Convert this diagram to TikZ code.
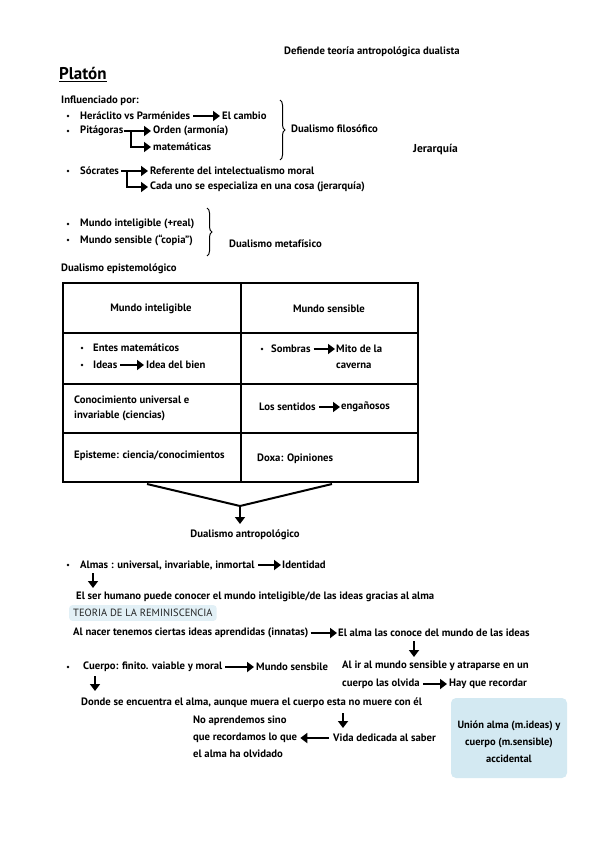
\documentclass[tikz,border=0pt]{standalone}
\usepackage{fontspec}
\setmainfont{PT Sans}
\usetikzlibrary{arrows.meta,decorations.pathreplacing}
\definecolor{hl}{HTML}{E2F0F6}
\definecolor{boxblue}{HTML}{D3E9F2}
\newcommand{\fsz}{\fontsize{10.7}{12}\selectfont\bfseries}
\begin{document}
\begin{tikzpicture}[x=1pt,y=-1pt,
  txt/.style={anchor=west,inner sep=0pt,font=\fsz},
  ctxt/.style={anchor=center,inner sep=0pt,font=\fsz},
  arr/.style={line width=2pt,-{Triangle[length=7pt,width=10pt]}},
  tline/.style={line width=1.1pt},
  brc/.style={line width=1pt,decorate,decoration={brace,amplitude=5pt}}]
\useasboundingbox (0,0) rectangle (594,848);
% header
\node[txt] (def) at (284,52) {Defiende teoría antropológica dualista};
\node[txt,font=\fontsize{17}{19}\bfseries] (plat) at (59,73) {Platón};
\draw[line width=1.3pt] ([yshift=-2pt]plat.south west) -- ([yshift=-2pt]plat.south east);
\node[txt] (infl) at (61,101) {Influenciado por:};
% influences
\fill (68,116) circle (1.4pt);
\node[txt] (her) at (80,116) {Heráclito vs Parménides};
\node[txt] (camb) at (222,116) {El cambio};
\draw[arr] ([xshift=3pt]her.east) -- ([xshift=-2pt]camb.west);
\fill (68,131) circle (1.4pt);
\node[txt] (pit) at (80,131) {Pitágoras};
\node[txt] (ord) at (153,131) {Orden (armonía)};
\node[txt] (mat) at (153,147) {matemáticas};
\coordinate (pj) at (131,131);
\draw[arr] (pit.east) -- ([xshift=-2pt]ord.west);
\draw[arr] (pj) |- ([xshift=-2pt]mat.west);
\draw[brc] (280,100) -- (280,160);
\node[txt] (fil) at (291,129) {Dualismo filosófico};
\node[txt,font=\fontsize{11.5}{13}\bfseries] (jer) at (413,150) {Jerarquía};
\fill (68,171) circle (1.4pt);
\node[txt] (soc) at (80,171) {Sócrates};
\node[txt] (ref) at (150,171) {Referente del intelectualismo moral};
\node[txt] (cada) at (150,187) {Cada uno se especializa en una cosa (jerarquía)};
\coordinate (sj) at (127,171);
\draw[arr] ([xshift=2pt]soc.east) -- ([xshift=-2pt]ref.west);
\draw[arr] (sj) |- ([xshift=-2pt]cada.west);
% worlds
\fill (68,224) circle (1.4pt);
\node[txt] (mi) at (80,224) {Mundo inteligible (+real)};
\fill (68,240) circle (1.4pt);
\node[txt] (ms) at (80,240) {Mundo sensible (“copia”)};
\draw[brc] (207,208) -- (207,256);
\node[txt] (met) at (229,244) {Dualismo metafísico};
\node[txt] (epi) at (61,269) {Dualismo epistemológico};
% table
\draw[tline] (63,283) rectangle (418,482);
\draw[tline] (241,283) -- (241,482);
\draw[tline] (63,333) -- (418,333);
\draw[tline] (63,384) -- (418,384);
\draw[tline] (63,433) -- (418,433);
\node[ctxt] (h1) at (151,309) {Mundo inteligible};
\node[ctxt] (h2) at (329,309) {Mundo sensible};
\fill (82,348) circle (1.4pt);
\fill (82,365) circle (1.4pt);
\node[txt] (ent) at (93,348) {Entes matemáticos};
\node[txt] (ide) at (93,365) {Ideas};
\node[txt] (bien) at (146,365) {Idea del bien};
\draw[arr] ([xshift=3pt]ide.east) -- ([xshift=-2pt]bien.west);
\fill (262,349) circle (1.4pt);
\node[txt] (som) at (271,349) {Sombras};
\node[txt] (mito) at (336,349) {Mito de la};
\node[txt] (cav) at (336,366) {caverna};
\draw[arr] ([xshift=3pt]som.east) -- ([xshift=-1pt]mito.west);
\node[txt] (con1) at (74,400) {Conocimiento universal e};
\node[txt] (con2) at (74,416) {invariable (ciencias)};
\node[txt] (sent) at (259,407) {Los sentidos};
\node[txt] (eng) at (341,407) {engañosos};
\draw[arr] ([xshift=3pt]sent.east) -- ([xshift=-1pt]eng.west);
\node[txt] (epis) at (74,456) {Episteme: ciencia/conocimientos};
\node[txt] (doxa) at (257,459) {Doxa: Opiniones};
% funnel
\coordinate (fl) at (147,484);
\coordinate (fr) at (332,484);
\coordinate (fm) at (240,506);
\node[ctxt] (antro) at (245,535) {Dualismo antropológico};
\draw[line width=2pt] (fl) -- (fm) -- (fr);
\draw[arr] (fm) -- (240,524);
% soul
\fill (68,565) circle (1.4pt);
\node[txt] (alm) at (80,565) {Almas : universal, invariable, inmortal};
\node[txt] (iden) at (282,565) {Identidad};
\draw[arr] ([xshift=3pt]alm.east) -- ([xshift=-1pt]iden.west);
\coordinate (d1a) at (93,573);
\coordinate (d1b) at (93,588);
\draw[arr] (d1a) -- (d1b);
\node[txt] (ser) at (76,597) {El ser humano puede conocer el mundo inteligible/de las ideas gracias al alma};
\node[txt,fill=hl,inner xsep=4pt,inner ysep=4pt,rounded corners=3pt,font=\fontsize{10.5}{12}\selectfont,text=black!85] (teo) at (69,613) {TEORIA DE LA REMINISCENCIA};
\node[txt] (nac) at (73,633) {Al nacer tenemos ciertas ideas aprendidas (innatas)};
\node[txt] (conoce) at (338,633) {El alma las conoce del mundo de las ideas};
\draw[arr] ([xshift=2pt]nac.east) -- ([xshift=-1pt]conoce.west);
\coordinate (d2a) at (414,641);
\coordinate (d2b) at (414,657);
\draw[arr] (d2a) -- (d2b);
% body
\fill (68,667) circle (1.4pt);
\node[txt] (cue) at (83,667) {Cuerpo: finito. vaiable y moral};
\node[txt] (msb) at (256,667) {Mundo sensbile};
\draw[arr] ([xshift=3pt]cue.east) -- ([xshift=-2pt]msb.west);
\node[txt] (ir1) at (342,666) {Al ir al mundo sensible y atraparse en un};
\node[txt] (ir2) at (342,684) {cuerpo las olvida};
\node[txt] (hay) at (449,684) {Hay que recordar};
\draw[arr] ([xshift=3pt]ir2.east) -- ([xshift=-2pt]hay.west);
\coordinate (d3a) at (95,676);
\coordinate (d3b) at (95,691);
\draw[arr] (d3a) -- (d3b);
\node[txt] (donde) at (81,703) {Donde se encuentra el alma, aunque muera el cuerpo esta no muere con él};
\node[txt] (no1) at (193,721) {No aprendemos sino};
\node[txt] (no2) at (193,738) {que recordamos lo que};
\node[txt] (no3) at (193,754) {el alma ha olvidado};
\coordinate (d4a) at (343,713);
\coordinate (d4b) at (343,728);
\draw[arr] (d4a) -- (d4b);
\node[txt] (vida) at (333,738) {Vida dedicada al saber};
\draw[arr] ([xshift=-4pt]vida.west) -- ([xshift=3pt]no2.east);
\fill[boxblue,rounded corners=5pt] (451,698) rectangle (567,778);
\node[inner sep=0pt,align=center,font=\fontsize{10.5}{17}\selectfont\bfseries] (union) at (509,742) {Unión alma (m.ideas) y\\cuerpo (m.sensible)\\accidental};
\end{tikzpicture}
\end{document}
